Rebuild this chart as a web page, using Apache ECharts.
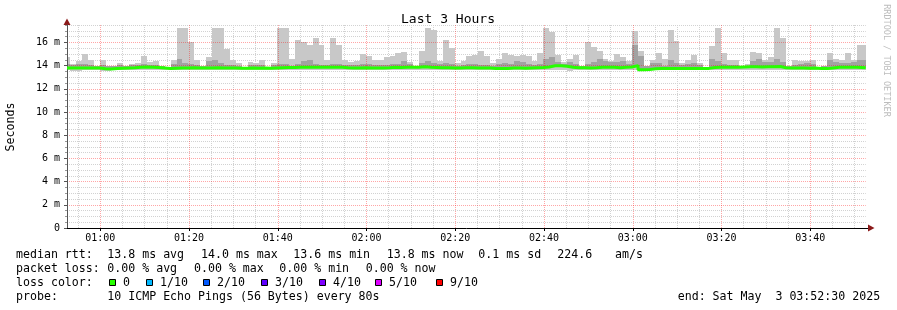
<!DOCTYPE html>
<html><head><meta charset="utf-8">
<script src="https://cdn.jsdelivr.net/npm/echarts@6/dist/echarts.min.js"></script>
<style>html,body{margin:0;padding:0;background:#fff}#c{width:897px;height:310px}</style>
</head><body><div id="c"></div>
<script>
// time axis in minutes since midnight
const xStartMin = 52.5;   // 00:52:30
const xEndMin = 232.5;    // 03:52:30
const firstSampleMin = 51.85;
const stepMin = 80 / 60;  // every 80s
const xMajorTicks = [60, 80, 100, 120, 140, 160, 180, 200, 220];
const xMinorTicks = [55,65,70,75,85,90,95,105,110,115,125,130,135,145,150,155,165,170,175,185,190,195,205,210,215,225,230];
const yMajorTicks = [0, 2, 4, 6, 8, 10, 12, 14, 16];
const yMinorTicks = [0.5,1,1.5,2.5,3,3.5,4.5,5,5.5,6.5,7,7.5,8.5,9,9.5,10.5,11,11.5,12.5,13,13.5,14.5,15,15.5,16.5,17,17.5];

// ms, one value per 80 s sample
const rttMax = [
  14.7,14.1,14.4,15.0,14.5,14.0,14.5,14.0,14.0,14.2, 14.0,14.1,14.2,14.8,14.3,14.4,14.0,13.9,14.5,17.2,
  17.2,16.0,14.5,14.0,14.7,17.2,17.2,15.4,14.5,14.2, 13.9,14.3,14.2,14.5,13.9,14.2,17.2,17.2,14.6,16.2,
  16.0,15.8,16.4,15.8,14.5,16.4,
  15.8,14.5,14.3,14.4,15.0,14.8,14.5,14.5,14.7,14.8, 15.1,15.2,14.3,14.0,15.3,17.2,17.1,14.4,16.2,15.5,
  14.2,14.4,14.8,14.9,15.3,14.8,14.2,14.6,15.1,14.9, 14.8,14.9,14.8,14.4,15.1,17.2,16.9,14.9,14.3,14.6,
  14.9,14.0,16.0,15.6,15.3,
  14.6,14.4,15.0,14.7,14.4,17.0,15.3,14.0,14.5,15.1, 14.6,17.1,16.1,14.2,14.5,14.9,14.2,13.9,15.7,17.2,
  15.1,14.5,14.5,14.0,14.1,15.2,15.1,14.5,14.7,17.2, 16.4,14.0,14.5,14.4,14.4,14.5,13.9,14.0,15.1,14.6,
  14.5,15.1,14.5,15.8
];
const rttInner = [
  14.1,14.05,14.1,14.1,14.05,14.0,14.05,14.0,14.0,14.05, 14.0,14.05,14.05,14.1,14.05,14.05,14.0,13.85,14.1,14.6,
  14.2,14.1,14.05,14.0,14.4,14.5,14.2,14.05,14.05,14.0, 13.85,14.05,14.05,14.05,13.9,14.05,14.1,14.1,14.0,14.1,
  14.4,14.5,14.1,14.05,14.05,14.1,
  14.1,14.05,14.05,14.05,14.1,14.1,14.05,14.05,14.05,14.1, 14.1,14.4,14.1,14.0,14.2,14.4,14.2,14.1,14.2,14.1,
  14.0,14.05,14.1,14.1,14.05,14.05,14.0,14.1,14.2,14.1, 14.4,14.3,14.1,14.05,14.1,14.6,14.7,14.3,14.1,14.3,
  14.1,14.0,14.1,14.3,14.6,
  14.4,14.3,14.3,14.4,14.1,15.8,14.8,14.0,14.2,14.2, 14.0,14.5,14.2,14.05,14.1,14.2,14.05,13.85,14.6,14.4,
  14.1,14.05,14.05,14.0,14.0,14.4,14.6,14.3,14.3,14.6, 14.3,14.0,14.05,14.1,14.2,14.1,13.85,14.0,14.5,14.3,
  14.2,14.2,14.3,14.5
];
const rttMedian = [
  13.8,13.8,13.8,13.8,13.8,13.8,13.72,13.7,13.75,13.78, 13.8,13.82,13.85,13.87,13.86,13.84,13.8,13.76,13.78,13.8,
  13.8,13.82,13.8,13.8,13.8,13.82,13.8,13.8,13.8,13.78, 13.78,13.8,13.78,13.8,13.78,13.8,13.82,13.84,13.84,13.85,
  13.85,13.86,13.86,13.85,13.85,13.86,
  13.85,13.82,13.8,13.8,13.82,13.8,13.8,13.8,13.82,13.85, 13.84,13.85,13.85,13.86,13.9,13.85,13.84,13.82,13.82,13.8,
  13.8,13.82,13.82,13.8,13.8,13.8,13.75,13.74,13.76,13.8, 13.8,13.78,13.8,13.82,13.84,13.88,13.98,13.98,13.95,13.85,
  13.82,13.82,13.8,13.82,13.85,
  13.85,13.85,13.82,13.85,13.88,14.0,13.65,13.66,13.72,13.75, 13.74,13.76,13.76,13.75,13.74,13.76,13.75,13.76,13.84,13.86,
  13.86,13.85,13.86,13.88,13.9,13.9,13.88,13.9,13.9,13.92, 13.82,13.8,13.8,13.8,13.78,13.8,13.76,13.74,13.8,13.85,
  13.85,13.86,13.85,13.82
];
const rttMin = [
  13.6,13.55,13.55,13.58,13.6,13.6,13.55,13.55,13.6,13.6, 13.6,13.62,13.6,13.6,13.6,13.62,13.62,13.65,13.6,13.6,
  13.6,13.62,13.6,13.6,13.6,13.58,13.6,13.62,13.6,13.6, 13.65,13.6,13.62,13.6,13.65,13.6,13.6,13.62,13.6,13.58,
  13.62,13.6,13.6,13.62,13.6,13.62,
  13.62,13.6,13.6,13.62,13.6,13.6,13.62,13.6,13.62,13.6, 13.62,13.6,13.62,13.62,13.6,13.58,13.6,13.62,13.6,13.6,
  13.62,13.62,13.6,13.6,13.62,13.6,13.6,13.58,13.58,13.6, 13.62,13.6,13.62,13.6,13.62,13.6,13.65,13.62,13.6,13.55,
  13.6,13.62,13.6,13.62,13.6,
  13.6,13.62,13.6,13.6,13.62,13.58,13.55,13.55,13.58,13.6, 13.6,13.58,13.6,13.6,13.6,13.58,13.6,13.62,13.62,13.6,
  13.6,13.62,13.62,13.62,13.65,13.62,13.6,13.62,13.62,13.6, 13.6,13.62,13.6,13.6,13.6,13.62,13.6,13.6,13.62,13.62,
  13.6,13.6,13.62,13.58
];
const lossLegend = [
  {label: '0', color: '#26ff00', x: 109},
  {label: '1/10', color: '#00b8ff', x: 146},
  {label: '2/10', color: '#0059ff', x: 203},
  {label: '3/10', color: '#5e00ff', x: 261},
  {label: '4/10', color: '#7e00ff', x: 319},
  {label: '5/10', color: '#dd00ff', x: 375},
  {label: '9/10', color: '#ff0000', x: 436}
];

const n = rttMax.length;
const smokeData = [];
const medianData = [];
for (let i = 0; i < n; i++) {
  const t0 = firstSampleMin + i * stepMin;
  const t1 = (i === n - 1) ? xEndMin : t0 + stepMin;
  smokeData.push([t0, t1, rttMin[i], rttMax[i], rttInner[i], rttMedian[i]]);
  medianData.push([Math.max(t0, xStartMin), rttMedian[i]]);
}
medianData.push([xEndMin, rttMedian[n - 1]]);

const MONO = '"DejaVu Sans Mono", monospace';
function fmtTime(m) {
  const h = Math.floor(m / 60), mm = Math.round(m % 60);
  return String(h).padStart(2, '0') + ':' + String(mm).padStart(2, '0');
}
function txt(text, x, y, opts) {
  opts = opts || {};
  return {
    type: 'text', x: x, y: y, rotation: opts.rotation || 0, silent: true,
    style: {
      text: text, fill: opts.fill || '#000',
      font: (opts.size || 11.6) + 'px ' + MONO,
      textAlign: opts.align || 'left', align: opts.align || 'left',
      textVerticalAlign: 'middle', verticalAlign: 'middle'
    }
  };
}

const L1 = 254.5, L2 = 268.5, L3 = 282.7, L4 = 296.8;
const graphics = [
  txt('Last 3 Hours', 448, 20, {align: 'center', size: 13}),
  txt('Seconds', 11, 127, {rotation: Math.PI / 2, align: 'center', size: 11.6}),
  txt('RRDTOOL / TOBI OETIKER', 886.5, 60.5, {rotation: -Math.PI / 2, align: 'center', size: 8.5, fill: '#bdbdbd'}),
  txt('median rtt:', 16, L1), txt('13.8 ms avg', 107.3, L1), txt('14.0 ms max', 201, L1),
  txt('13.6 ms min', 293.3, L1), txt('13.8 ms now', 386.7, L1), txt('0.1 ms sd', 478.3, L1),
  txt('224.6', 557.3, L1), txt('am/s', 615, L1),
  txt('packet loss:', 16, L2), txt('0.00 % avg', 107.3, L2), txt('0.00 % max', 194, L2),
  txt('0.00 % min', 279.3, L2), txt('0.00 % now', 365.7, L2),
  txt('loss color:', 16, L3),
  txt('probe:', 16, L4), txt('10 ICMP Echo Pings (56 Bytes) every 80s', 107.3, L4),
  txt('end: Sat May  3 03:52:30 2025', 677.7, L4),
  {type: 'polygon', silent: true, shape: {points: [[63.5, 25], [70.5, 25], [67, 18.5]]}, style: {fill: '#8b1a1a'}},
  {type: 'polygon', silent: true, shape: {points: [[868, 224.5], [868, 231.5], [874.5, 228]]}, style: {fill: '#8b1a1a'}},
  {type: 'line', silent: true, shape: {x1: 865, y1: 228.5, x2: 868, y2: 228.5}, style: {stroke: '#000', lineWidth: 1}}
];
lossLegend.forEach(function (d) {
  graphics.push({type: 'rect', silent: true, shape: {x: d.x + 0.5, y: 279.5, width: 6, height: 6},
    style: {fill: d.color, stroke: '#000', lineWidth: 1}});
  graphics.push(txt(d.label, d.x + 14, L3));
});

const chart = echarts.init(document.getElementById('c'), null, {renderer: 'canvas'});
chart.setOption({
  animation: false,
  backgroundColor: '#ffffff',
  grid: {left: 67, right: 31.25, top: 25, bottom: 82, containLabel: false},
  xAxis: [{
    type: 'value', min: xStartMin, max: xEndMin, position: 'bottom',
    axisLine: {show: true, onZero: false, lineStyle: {color: '#000', width: 1}},
    axisTick: {show: true, length: 3, customValues: xMajorTicks, lineStyle: {color: '#000'}},
    axisLabel: {customValues: xMajorTicks, formatter: fmtTime, margin: 5, color: '#000',
      fontFamily: 'DejaVu Sans Mono', fontSize: 10},
    splitLine: {show: true, lineStyle: {color: 'rgba(255,0,0,0.35)', type: [1, 1], width: 1}},
    z: 3
  }, {
    type: 'value', min: xStartMin, max: xEndMin, position: 'bottom',
    axisLine: {show: false}, axisLabel: {show: false},
    axisTick: {show: false, customValues: xMinorTicks},
    splitLine: {show: true, lineStyle: {color: '#d2d2d2', type: [1, 1], width: 1}}
  }],
  yAxis: [{
    type: 'value', min: 0, max: 17.5, position: 'left',
    axisLine: {show: true, onZero: false, lineStyle: {color: '#555', width: 1}},
    axisTick: {show: true, length: 3, customValues: yMajorTicks, lineStyle: {color: '#555'}},
    axisLabel: {customValues: yMajorTicks, formatter: function (v) { return v === 0 ? '0' : v + ' m'; },
      margin: 7, color: '#000', fontFamily: 'DejaVu Sans Mono', fontSize: 10},
    splitLine: {show: true, lineStyle: {color: 'rgba(255,0,0,0.35)', type: [1, 1], width: 1}},
    z: 3
  }, {
    type: 'value', min: 0, max: 17.5, position: 'left', offset: 0,
    axisLine: {show: false}, axisLabel: {show: false},
    axisTick: {show: true, length: 2, customValues: yMinorTicks, lineStyle: {color: '#999'}},
    splitLine: {show: true, lineStyle: {color: '#d2d2d2', type: [1, 1], width: 1}}
  }],
  series: [{
    type: 'custom', xAxisIndex: 0, yAxisIndex: 0, clip: true, silent: true, z: 2,
    data: smokeData,
    encode: {x: [0, 1], y: [2, 3]},
    renderItem: function (params, api) {
      const t0 = api.value(0), t1 = api.value(1);
      const lo = api.value(2), hi = api.value(3), inner = api.value(4), med = api.value(5);
      const a = api.coord([t0, hi]), b = api.coord([t1, lo]);
      const x0 = Math.round(a[0]), x1 = Math.round(b[0]);
      const yHi = Math.round(a[1]), yLo = Math.round(b[1]);
      const children = [{type: 'rect', shape: {x: x0, y: yHi, width: x1 - x0, height: yLo - yHi},
        style: {fill: '#c8c8c8'}}];
      if (inner > med) {
        const yIn = Math.round(api.coord([t0, inner])[1]);
        const yMed = Math.round(api.coord([t0, med])[1]);
        children.push({type: 'rect', shape: {x: x0, y: yIn, width: x1 - x0, height: yMed - yIn},
          style: {fill: '#a2a2a2'}});
      }
      return {type: 'group', children: children};
    }
  }, {
    type: 'line', xAxisIndex: 0, yAxisIndex: 0, step: 'end', data: medianData,
    symbol: 'none', silent: true, z: 4, clip: true,
    lineStyle: {color: '#26ff00', width: 3}
  }],
  graphic: graphics
});
</script>
</body></html>
